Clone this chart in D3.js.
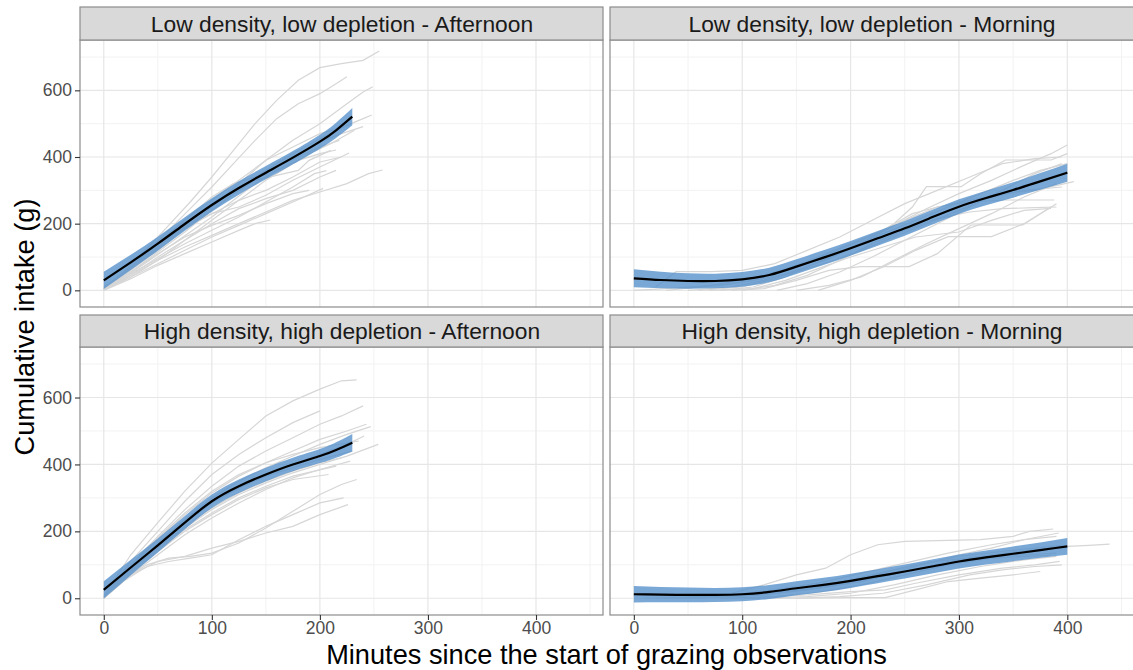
<!DOCTYPE html>
<html><head><meta charset="utf-8">
<script src="https://cdn.jsdelivr.net/npm/d3@7"></script>
<style>body{margin:0;background:#fff}svg{display:block}text{font-family:"Liberation Sans",Arial,Helvetica,sans-serif}</style>
</head><body>
<svg id="chart" width="1133" height="670"></svg>
<script>
// ---------- axis ticks ----------
const xTicks = [0, 100, 200, 300, 400];
const xMinorTicks = [50, 150, 250, 350, 450];
const yTicks = [0, 200, 400, 600];
const yMinorTicks = [100, 300, 500, 700];
const xTitle = "Minutes since the start of grazing observations";
const yTitle = "Cumulative intake (g)";
const panelTitles = [
  "Low density, low depletion - Afternoon",
  "Low density, low depletion - Morning",
  "High density, high depletion - Afternoon",
  "High density, high depletion - Morning"
];

// ---------- smooth fits (time, fit, lower, upper) ----------
const afternoonSmoothT = [0, 25, 50, 75, 100, 125, 150, 175, 200, 215, 230];
const morningSmoothT = [0, 25, 50, 75, 100, 125, 150, 175, 200, 225, 250, 275, 300, 325, 350, 375, 400];

const ldAfternoonFit = [30, 84, 140, 199, 256, 307, 353, 398, 446, 480, 521];
const ldAfternoonLo  = [4, 61, 119, 179, 236, 287, 333, 378, 425, 457, 495];
const ldAfternoonHi  = [56, 107, 161, 219, 276, 327, 373, 418, 467, 503, 547];

const ldMorningFit = [36, 31, 28, 28, 33, 46, 71, 98, 126, 156, 186, 219, 251, 277, 301, 327, 353];
const ldMorningLo  = [9, 6, 5, 6, 11, 24, 49, 76, 104, 134, 164, 197, 229, 255, 278, 302, 326];
const ldMorningHi  = [63, 56, 51, 50, 55, 68, 93, 120, 148, 178, 208, 241, 273, 299, 324, 352, 380];

const hdAfternoonFit = [25, 92, 158, 226, 290, 335, 370, 400, 425, 443, 465];
const hdAfternoonLo  = [-1, 69, 137, 206, 270, 315, 350, 380, 404, 420, 439];
const hdAfternoonHi  = [51, 115, 179, 246, 310, 355, 390, 420, 446, 466, 491];

const hdMorningFit = [12, 11, 10, 10, 12, 19, 30, 40, 52, 66, 80, 95, 110, 122, 133, 144, 155];
const hdMorningLo  = [-13, -12, -12, -11, -9, -2, 9, 19, 31, 45, 59, 74, 89, 101, 111, 121, 130];
const hdMorningHi  = [37, 34, 32, 31, 33, 40, 51, 61, 73, 87, 101, 116, 131, 143, 155, 167, 180];

// ---------- individual animal curves [minutes, grams] ----------
const ldAfternoonAnimals = [
  [[0,5],[20,60],[40,125],[60,195],[80,265],[100,340],[120,420],[140,500],[160,570],[180,630],[200,668],[220,680],[240,690],[255,718]],
  [[0,3],[20,55],[40,115],[60,180],[80,245],[100,310],[120,380],[140,450],[160,515],[180,560],[200,590],[215,620],[225,641]],
  [[0,8],[25,60],[50,120],[75,185],[100,250],[125,320],[150,390],[175,450],[200,500],[225,560],[240,595],[249,611]],
  [[0,2],[25,55],[50,115],[75,175],[100,240],[125,300],[150,360],[175,410],[200,455],[225,495],[240,515],[248,526]],
  [[0,10],[25,65],[50,130],[75,195],[100,260],[125,310],[150,350],[175,400],[200,445],[220,470],[240,491]],
  [[0,0],[20,40],[40,85],[60,130],[80,175],[100,220],[120,270],[140,320],[160,360],[180,390],[200,410],[215,421]],
  [[0,5],[25,50],[50,95],[75,140],[100,180],[125,220],[150,265],[175,310],[195,350],[206,359]],
  [[0,0],[25,45],[50,90],[75,130],[100,165],[125,200],[150,235],[175,270],[200,295],[225,320],[245,350],[258,361]],
  [[0,3],[25,40],[50,80],[75,120],[100,160],[125,195],[150,230],[175,265],[203,306]],
  [[0,0],[25,35],[50,75],[75,110],[100,145],[125,180],[140,200],[154,211]],
  [[0,5],[20,55],[40,110],[60,170],[80,225],[100,280],[120,320],[140,340],[160,370],[180,400],[200,430],[218,450]],
  [[0,0],[20,50],[40,100],[60,155],[80,200],[100,240],[120,290],[140,330],[160,345],[180,360],[190,390],[210,420]],
  [[0,2],[25,60],[50,125],[75,185],[100,230],[125,270],[150,300],[175,340],[200,385],[220,400]],
  [[0,0],[25,45],[50,100],[75,150],[100,200],[125,245],[150,275],[175,300],[200,340],[215,360]],
  [[0,4],[25,55],[50,110],[75,160],[100,195],[125,225],[150,260],[175,290],[190,300]],
  [[0,6],[25,70],[50,140],[75,210],[100,270],[125,330],[150,390],[175,430],[200,470],[222,490]],
  [[0,1],[25,40],[50,90],[75,150],[100,210],[125,270],[150,330],[170,370],[190,410],[210,440],[232,480]],
  [[0,3],[25,65],[50,130],[75,190],[100,230],[125,250],[150,285],[175,330],[200,370],[227,412]]
];

const ldMorningAnimals = [
  [[30,0],[60,10],[90,25],[120,45],[150,75],[180,110],[210,150],[240,195],[270,245],[300,290],[330,330],[360,375],[385,410],[400,436]],
  [[40,5],[80,15],[110,30],[140,60],[170,100],[200,140],[230,180],[257,230],[280,250],[310,270],[340,290],[370,300],[406,326]],
  [[50,0],[90,10],[120,30],[150,60],[180,95],[210,140],[240,200],[257,250],[270,311],[302,311],[320,350],[343,391],[385,391],[400,410]],
  [[60,0],[100,10],[130,35],[160,70],[190,110],[220,160],[250,210],[280,250],[310,265],[343,271],[388,271]],
  [[70,0],[110,5],[140,30],[170,65],[200,100],[230,130],[260,160],[300,175],[330,210],[360,240],[385,246]],
  [[90,0],[120,5],[150,30],[180,60],[209,71],[254,71],[280,110],[311,196],[359,196],[385,250]],
  [[132,0],[160,20],[190,55],[220,100],[250,150],[280,200],[310,250],[340,300],[370,350],[395,380]],
  [[170,0],[200,30],[230,70],[260,120],[290,161],[330,161],[360,200],[390,260]],
  [[20,10],[39,56],[71,56],[100,60],[130,80],[160,120],[190,160],[220,210],[250,260],[280,300],[310,340],[340,380],[370,395],[395,400]],
  [[0,0],[30,5],[60,12],[90,20],[120,35],[150,55],[180,85],[210,120],[240,160],[270,200],[300,240],[330,280],[360,300],[395,310]],
  [[100,0],[130,15],[160,45],[190,90],[220,140],[250,180],[280,215],[310,235],[340,245],[370,248],[390,250]],
  [[80,0],[110,10],[140,40],[170,85],[200,130],[230,170],[260,210],[290,250],[320,290],[350,330],[375,360],[400,380]],
  [[150,0],[180,15],[210,40],[240,90],[270,140],[300,185],[330,230],[360,280],[390,320]]
];

const hdAfternoonAnimals = [
  [[0,5],[25,130],[50,226],[75,320],[100,404],[125,475],[150,545],[175,590],[200,625],[220,650],[234,653]],
  [[0,0],[25,110],[50,200],[75,290],[100,370],[125,430],[150,480],[175,525],[200,560]],
  [[0,5],[25,100],[50,185],[75,265],[100,335],[125,395],[150,440],[175,480],[200,520],[220,545],[240,575]],
  [[0,0],[25,95],[50,175],[75,250],[100,315],[125,365],[150,405],[175,440],[200,475],[225,500],[243,520]],
  [[0,10],[25,90],[50,165],[75,235],[100,300],[125,350],[150,390],[175,425],[200,460],[225,490],[247,513]],
  [[0,0],[25,80],[50,155],[75,225],[100,285],[125,330],[150,370],[175,400],[200,430],[225,460],[241,485]],
  [[0,5],[25,85],[50,150],[75,210],[100,265],[125,310],[150,345],[175,375],[200,400],[225,425],[254,460]],
  [[0,0],[25,75],[50,140],[75,200],[100,250],[125,295],[150,330],[175,355],[208,370]],
  [[0,3],[20,60],[40,100],[60,120],[80,125],[100,135],[125,165],[150,210],[175,260],[200,310],[220,340],[234,355]],
  [[0,0],[20,55],[40,95],[60,110],[80,120],[100,130],[125,175],[150,215],[175,250],[200,285],[222,300]],
  [[0,5],[25,70],[50,110],[75,125],[100,150],[125,170],[150,195],[175,215],[200,250],[226,280]],
  [[0,0],[25,85],[50,160],[75,235],[100,290],[125,330],[150,365],[175,390],[200,415],[230,440]],
  [[0,5],[25,80],[50,150],[75,215],[100,270],[125,315],[150,350],[175,380],[200,405],[220,420]],
  [[0,0],[25,75],[50,145],[75,205],[100,255],[125,300],[150,335],[175,365],[215,395]],
  [[0,3],[25,95],[50,180],[75,255],[100,320],[125,370],[150,405],[175,430],[200,450],[236,470]],
  [[0,2],[25,70],[50,130],[75,190],[100,240],[125,285],[150,325],[175,360],[200,385],[228,410]]
];

const hdMorningAnimals = [
  [[30,0],[60,5],[90,15],[120,40],[150,70],[177,90],[200,130],[225,160],[250,170],[280,172],[320,175],[350,185],[365,200],[387,207]],
  [[50,0],[90,5],[130,15],[170,30],[210,50],[250,80],[290,110],[330,130],[370,145],[400,155],[420,158],[439,162]],
  [[60,0],[100,10],[140,20],[180,35],[220,60],[260,95],[300,130],[330,150],[360,175],[392,195]],
  [[80,0],[120,3],[160,10],[200,20],[232,25],[260,45],[300,70],[340,90],[370,100],[393,110]],
  [[100,0],[150,0],[200,2],[232,2],[260,25],[290,50],[320,60],[350,70],[375,80]],
  [[20,0],[60,2],[100,8],[140,20],[180,40],[220,70],[260,100],[300,125],[340,140],[370,150],[395,158]],
  [[40,0],[80,3],[120,10],[160,25],[200,50],[240,85],[280,110],[320,125],[360,130],[390,135]],
  [[120,0],[160,5],[200,15],[240,40],[280,70],[320,95],[360,115],[390,125]],
  [[90,0],[130,5],[170,18],[210,40],[250,70],[290,100],[330,120],[360,125],[385,128]],
  [[150,0],[190,5],[230,15],[270,40],[310,70],[340,85],[370,95],[395,100]],
  [[10,0],[50,3],[90,10],[130,25],[170,45],[210,75],[250,105],[290,135],[330,160],[360,175],[390,185]]
];

// ---------- layout ----------
const svg = d3.select("#chart");
svg.append("rect").attr("width", 1133).attr("height", 670).attr("fill", "#fff");

const xDomain = [-22, 462];
const yDomain = [-50, 751];
const cols = [[80, 603], [610, 1134.5]];
const rows = [{strip: [7, 40], panel: [40, 307]}, {strip: [315, 347], panel: [347, 615]}];

const panels = [
  {title: panelTitles[0], row: 0, col: 0, animals: ldAfternoonAnimals, t: afternoonSmoothT, fit: ldAfternoonFit, lo: ldAfternoonLo, hi: ldAfternoonHi},
  {title: panelTitles[1], row: 0, col: 1, animals: ldMorningAnimals, t: morningSmoothT, fit: ldMorningFit, lo: ldMorningLo, hi: ldMorningHi},
  {title: panelTitles[2], row: 1, col: 0, animals: hdAfternoonAnimals, t: afternoonSmoothT, fit: hdAfternoonFit, lo: hdAfternoonLo, hi: hdAfternoonHi},
  {title: panelTitles[3], row: 1, col: 1, animals: hdMorningAnimals, t: morningSmoothT, fit: hdMorningFit, lo: hdMorningLo, hi: hdMorningHi}
];

const borderCol = "#8c8c8c";
const tickCol = "#333";
const tickTextCol = "#4d4d4d";
const smoothCurve = d3.curveNatural;

panels.forEach((p, i) => {
  const [x0, x1] = cols[p.col];
  const r = rows[p.row];
  const [pTop, pBot] = r.panel;
  const x = d3.scaleLinear().domain(xDomain).range([x0, x1]);
  const y = d3.scaleLinear().domain(yDomain).range([pBot, pTop]);
  const g = svg.append("g");

  const clipId = "clip" + i;
  g.append("clipPath").attr("id", clipId).append("rect")
    .attr("x", x0).attr("y", pTop).attr("width", x1 - x0).attr("height", pBot - pTop);

  const inner = g.append("g").attr("clip-path", `url(#${clipId})`);
  // minor grid
  inner.selectAll(".vmin").data(xMinorTicks).join("line")
    .attr("x1", d => x(d)).attr("x2", d => x(d)).attr("y1", pTop).attr("y2", pBot)
    .attr("stroke", "#f2f2f2").attr("stroke-width", 1);
  inner.selectAll(".hmin").data(yMinorTicks).join("line")
    .attr("y1", d => y(d)).attr("y2", d => y(d)).attr("x1", x0).attr("x2", x1)
    .attr("stroke", "#f2f2f2").attr("stroke-width", 1);
  // major grid
  inner.selectAll(".vmaj").data(xTicks).join("line")
    .attr("x1", d => x(d)).attr("x2", d => x(d)).attr("y1", pTop).attr("y2", pBot)
    .attr("stroke", "#e6e6e6").attr("stroke-width", 1.2);
  inner.selectAll(".hmaj").data(yTicks).join("line")
    .attr("y1", d => y(d)).attr("y2", d => y(d)).attr("x1", x0).attr("x2", x1)
    .attr("stroke", "#e6e6e6").attr("stroke-width", 1.2);

  // individual curves
  const ln = d3.line().x(d => x(d[0])).y(d => y(d[1]));
  inner.selectAll(".animal").data(p.animals).join("path")
    .attr("d", ln).attr("fill", "none").attr("stroke", "#d6d6d6").attr("stroke-width", 1.2);

  // ribbon + fit
  const sm = p.t.map((t, k) => ({t, fit: p.fit[k], lo: p.lo[k], hi: p.hi[k]}));
  inner.append("path").datum(sm)
    .attr("d", d3.area().curve(smoothCurve).x(d => x(d.t)).y0(d => y(d.lo)).y1(d => y(d.hi)))
    .attr("fill", "#5590cb").attr("fill-opacity", 0.78);
  inner.append("path").datum(sm)
    .attr("d", d3.line().curve(smoothCurve).x(d => x(d.t)).y(d => y(d.fit)))
    .attr("fill", "none").attr("stroke", "#000").attr("stroke-width", 2.2);

  // panel border
  g.append("rect").attr("x", x0).attr("y", pTop).attr("width", x1 - x0).attr("height", pBot - pTop)
    .attr("fill", "none").attr("stroke", borderCol).attr("stroke-width", 1.2);

  // strip
  const [sTop, sBot] = r.strip;
  g.append("rect").attr("x", x0).attr("y", sTop).attr("width", x1 - x0).attr("height", sBot - sTop)
    .attr("fill", "#d9d9d9").attr("stroke", borderCol).attr("stroke-width", 1.2);
  g.append("text").attr("x", (x0 + Math.min(x1, 1133)) / 2 + 0.5).attr("y", (sTop + sBot) / 2 + 8)
    .attr("text-anchor", "middle").attr("font-size", 22.8).attr("fill", "#1a1a1a").text(p.title);

  // y axis on left column
  if (p.col === 0) {
    const ay = g.append("g").attr("transform", `translate(${x0},0)`)
      .call(d3.axisLeft(y).tickValues(yTicks).tickSize(5).tickPadding(3).tickFormat(d3.format("d")));
    ay.select(".domain").remove();
    ay.selectAll(".tick line").attr("stroke", tickCol).attr("stroke-width", 1.1);
    ay.selectAll(".tick text").attr("font-size", 17.5).attr("fill", tickTextCol)
      .attr("font-family", '"Liberation Sans",Arial,sans-serif');
  }
  // x axis on bottom row
  if (p.row === 1) {
    const ax = g.append("g").attr("transform", `translate(0,${pBot})`)
      .call(d3.axisBottom(x).tickValues(xTicks).tickSize(5).tickPadding(2).tickFormat(d3.format("d")));
    ax.select(".domain").remove();
    ax.selectAll(".tick line").attr("stroke", tickCol).attr("stroke-width", 1.1);
    ax.selectAll(".tick text").attr("font-size", 17.5).attr("fill", tickTextCol)
      .attr("font-family", '"Liberation Sans",Arial,sans-serif');
  }
});

// axis titles
svg.append("text").attr("x", 606.5).attr("y", 664).attr("text-anchor", "middle")
  .attr("font-size", 27.2).attr("fill", "#000").text(xTitle);
svg.append("text").attr("transform", "translate(33.5,327) rotate(-90)").attr("text-anchor", "middle")
  .attr("font-size", 27.2).attr("fill", "#000").text(yTitle);
</script>
</body></html>
